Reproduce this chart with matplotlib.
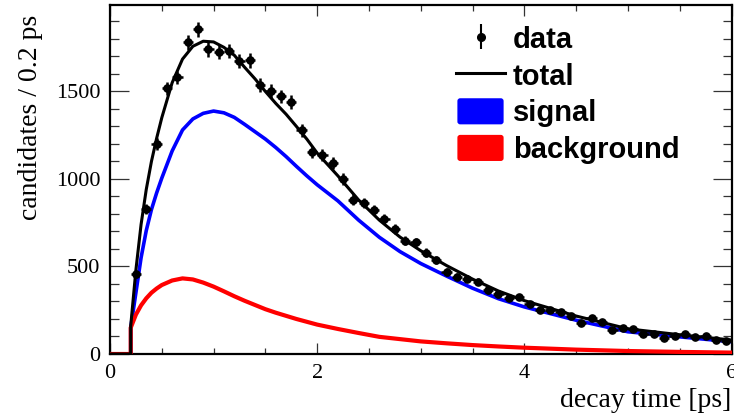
import numpy as np
import matplotlib
matplotlib.use("Agg")
import matplotlib.pyplot as plt
from matplotlib.lines import Line2D
from matplotlib.patches import FancyBboxPatch, Patch
from matplotlib.legend_handler import HandlerPatch, HandlerErrorbar
from matplotlib.container import ErrorbarContainer
from matplotlib.ticker import MultipleLocator

# ---- binned decay-time data (0.1 ps bins starting at 0.2 ps) ----
bin_start = 0.2
bin_width = 0.1
counts = [455, 827, 1199, 1517, 1580, 1780, 1855, 1741, 1725, 1731,
          1673, 1677, 1537, 1504, 1472, 1439, 1278, 1153, 1135, 1090,
          1000, 882, 861, 823, 773, 715, 648, 640, 579, 537,
          470, 442, 430, 413, 364, 340, 320, 324, 285, 251,
          251, 242, 215, 179, 207, 182, 139, 148, 143, 113,
          114, 93, 105, 116, 99, 104, 80, 76]

# ---- fit components, sampled along decay time ----
t_fit = [0.0, 0.2, 0.2, 0.25, 0.3, 0.35, 0.4, 0.45, 0.5, 0.6, 0.7, 0.8, 0.9,
         1.0, 1.1, 1.2, 1.3, 1.4, 1.5, 1.6, 1.7, 1.8, 1.9, 2.0, 2.2, 2.4,
         2.6, 2.8, 3.0, 3.25, 3.5, 3.75, 4.0, 4.5, 5.0, 5.5, 6.0]
total_fit = [0, 0, 160, 480, 740, 940, 1100, 1232, 1350, 1550, 1685, 1758, 1787,
             1783, 1752, 1707, 1638, 1572, 1500, 1432, 1370, 1300, 1228, 1148,
             1018, 880, 765, 668, 590, 505, 428, 360, 305, 217, 144, 110, 80]
signal_fit = [0, 0, 150, 350, 550, 705, 825, 920, 1005, 1160, 1280, 1343, 1375,
              1388, 1378, 1352, 1312, 1270, 1228, 1180, 1128, 1072, 1018, 967,
              875, 765, 667, 585, 517, 445, 376, 316, 269, 193, 127, 98, 70]
background_fit = [0, 0, 150, 225, 278, 318, 350, 374, 394, 420, 432, 426, 408,
                  385, 358, 330, 304, 280, 256, 236, 218, 200, 184, 168,
                  143, 120, 98, 85, 72, 61, 51, 43, 36, 25, 17, 12, 8]

counts = np.asarray(counts, dtype=float)
centres = bin_start + bin_width * (np.arange(len(counts)) + 0.5)
errors = np.sqrt(counts)

W, H = 734, 419
fig = plt.figure(figsize=(W / 100, H / 100), dpi=100)
ax = fig.add_axes([110 / W, 1 - 354 / H, 621.5 / W, 349 / H])

ax.plot(t_fit, signal_fit, color="#0000ff", lw=2.6, zorder=2, solid_joinstyle="round")
ax.plot(t_fit, background_fit, color="#ff0000", lw=3.0, zorder=3, solid_joinstyle="round")
ax.plot(t_fit, total_fit, color="black", lw=2.2, zorder=4, solid_joinstyle="round")
ax.errorbar(centres, counts, yerr=errors, xerr=bin_width / 2, fmt="o",
            color="black", ms=5.2, elinewidth=1.8, capsize=0, zorder=5)

ax.set_xlim(0, 6)
ax.set_ylim(0, 1994)

serif = ["Liberation Serif", "DejaVu Serif"]
ax.xaxis.set_major_locator(MultipleLocator(2))
ax.xaxis.set_minor_locator(MultipleLocator(0.5))
ax.yaxis.set_major_locator(MultipleLocator(500))
ax.yaxis.set_minor_locator(MultipleLocator(100))
ax.tick_params(axis="both", which="both", direction="in", top=True, right=True,
               width=0.9, color="#333333")
ax.tick_params(axis="x", which="major", length=8, pad=7)
ax.tick_params(axis="x", which="minor", length=4)
ax.tick_params(axis="y", which="major", length=13.5, pad=7)
ax.tick_params(axis="y", which="minor", length=6.8)
for lab in ax.get_xticklabels() + ax.get_yticklabels():
    lab.set_fontfamily(serif)
    lab.set_fontsize(16)
for sp in ax.spines.values():
    sp.set_linewidth(1.6)

ax.set_xlabel("decay time [ps]", fontsize=20, family=serif, loc="right", labelpad=4)
ax.set_ylabel("candidates / 0.2 ps", fontsize=20, family=serif, loc="top")
ax.yaxis.set_label_coords(-0.107, 0.972)


def rounded_box(legend, orig_handle, xdescent, ydescent, width, height, fontsize):
    return FancyBboxPatch((-xdescent + 1, -ydescent), width - 2, height,
                          boxstyle="round,pad=0,rounding_size=2",
                          facecolor=orig_handle.get_facecolor(), edgecolor="none")


data_handle = ax.errorbar([], [], yerr=[], fmt="o", color="black", ms=5.5,
                          elinewidth=1.5, capsize=0)
handles = [data_handle,
           Line2D([], [], color="black", lw=2.2),
           Patch(facecolor="#0000ff"),
           Patch(facecolor="#ff0000")]
labels = ["data", "total", "signal", "background"]
leg = ax.legend(handles, labels, loc="upper left",
                bbox_to_anchor=((456 - 110) / 621.5, (354 - 25) / 349),
                frameon=False, prop={"family": "Liberation Sans", "weight": "bold", "size": 21},
                handlelength=1.68, handleheight=1.0, handletextpad=0.27,
                labelspacing=0.26, borderaxespad=0, borderpad=0,
                handler_map={Patch: HandlerPatch(patch_func=rounded_box),
                             ErrorbarContainer: HandlerErrorbar(xerr_size=0, yerr_size=0.43)})

fig.savefig("out.png", dpi=100)
